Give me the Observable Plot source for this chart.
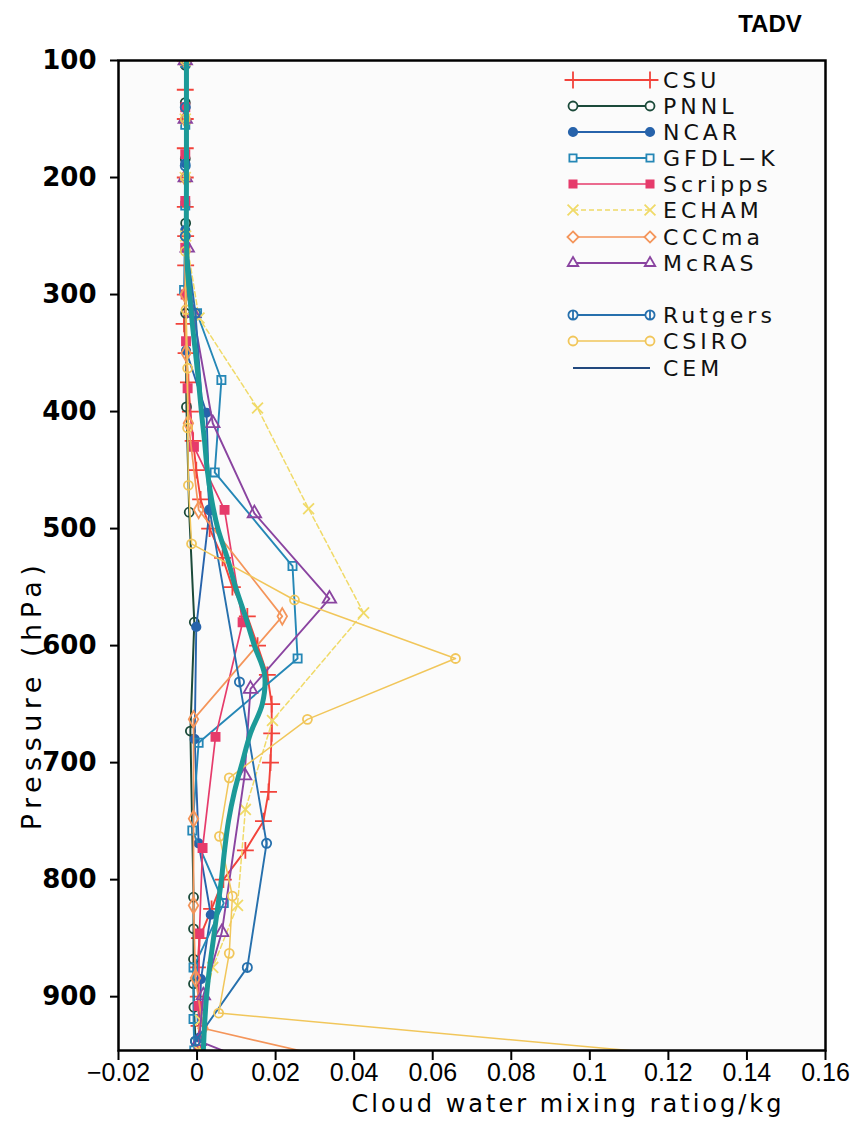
<!DOCTYPE html>
<html><head><meta charset="utf-8">
<script src="https://cdn.jsdelivr.net/npm/d3@7"></script>
<script src="https://cdn.jsdelivr.net/npm/@observablehq/plot@0.6"></script>
<style>
body{margin:0;background:#fff;}
#wrap{position:relative;width:856px;height:1123px;}
#overlay{position:absolute;left:0;top:0;pointer-events:none;}
</style></head><body><div id="wrap"></div>
<script>
// ---------- DATA ----------
const title = "TADV";
const xLabel = "Cloud water mixing ratiog/kg";
const yLabel = "Pressure (hPa)";
const xTicks = [-0.02, 0, 0.02, 0.04, 0.06, 0.08, 0.1, 0.12, 0.14, 0.16];
const yTicks = [100, 200, 300, 400, 500, 600, 700, 800, 900];

const csuP = [100,125,150,175,200,225,250,275,300,325,350,375,400,425,450,475,500,525,550,575,600,625,650,675,700,725,750,775,800,825,850,875,900,925];
const csuX = [-0.0030,-0.0030,-0.0030,-0.0030,-0.0030,-0.0030,-0.0029,-0.0029,-0.0030,-0.0033,-0.0028,-0.0022,-0.0017,-0.0010,-0.0002,0.0009,0.0032,0.0065,0.0090,0.0128,0.0154,0.0179,0.0190,0.0190,0.0187,0.0182,0.0169,0.0123,0.0067,0.0037,0.0006,0.0001,0.0003,0.0005];

const pnnlP = [104,136,184,239,316,396,486,580,673,815,842,868,889,909,938];
const pnnlX = [-0.0030,-0.0030,-0.0030,-0.0029,-0.0029,-0.0027,-0.0020,-0.0007,-0.0017,-0.0009,-0.0009,-0.0009,-0.0009,-0.0008,-0.0004];

const ncarP = [103,140,188,245,300,348,401,484,584,680,769,830,885,935];
const ncarX = [-0.0030,-0.0030,-0.0030,-0.0030,-0.0029,-0.0028,0.0024,0.0032,-0.0002,-0.0006,0.0004,0.0035,0.0010,0.0006];

const gfdlP = [102,155,224,296,316,373,452,532,611,683,758,820,875,919,946];
const gfdlX = [-0.0030,-0.0030,-0.0030,-0.0033,0.0000,0.0062,0.0045,0.0243,0.0256,0.0004,-0.0012,0.0068,-0.0009,-0.0009,-0.0007];

const scrippsP = [100,140,180,220,260,300,340,380,430,484,580,678,773,846,908,946];
const scrippsX = [-0.0030,-0.0030,-0.0030,-0.0030,-0.0030,-0.0029,-0.0028,-0.0024,-0.0008,0.0070,0.0116,0.0047,0.0014,0.0006,0.0004,0.0006];

const echamP = [100,150,200,250,320,397,483,572,664,740,822,875,920,946];
const echamX = [-0.0030,-0.0030,-0.0030,-0.0029,0.0005,0.0154,0.0284,0.0424,0.0192,0.0123,0.0103,0.0040,0.0009,0.0005];

const cccmaP = [100,150,200,250,300,350,410,484,575,663,748,822,884,927,960];
const cccmaX = [-0.0030,-0.0030,-0.0030,-0.0030,-0.0030,-0.0028,-0.0022,0.0004,0.0217,-0.0009,-0.0009,-0.0009,-0.0004,0.0015,0.0440];

const mcrasP = [100,150,200,260,316,410,487,560,637,711,845,899,938,960];
const mcrasX = [-0.0030,-0.0030,-0.0030,-0.0025,-0.0010,0.0040,0.0146,0.0337,0.0136,0.0121,0.0063,0.0016,0.0005,0.0170];

const rutgersP = [100,140,190,250,316,484,631,769,875,938];
const rutgersX = [-0.0030,-0.0030,-0.0030,-0.0030,-0.0004,0.0032,0.0108,0.0177,0.0128,-0.0004];

const csiroP = [100,150,200,263,313,363,414,463,513,561,611,663,713,763,814,863,914,965];
const csiroX = [-0.0030,-0.0030,-0.0030,-0.0030,-0.0028,-0.0024,-0.0024,-0.0022,-0.0014,0.0248,0.0658,0.0281,0.0082,0.0057,0.0090,0.0082,0.0055,0.1720];

const cemP = [100,150,200,250,275,300,325,350,375,400,425,450,475,500,525,550,575,600,625,650,675,700,725,750,775,800,825,850,875,900,925,946];
const cemX = [-0.0027,-0.0027,-0.0027,-0.0027,-0.0025,-0.0019,-0.0012,-0.0004,0.0004,0.0011,0.0019,0.0026,0.0037,0.0053,0.0077,0.0098,0.0123,0.0146,0.0172,0.0166,0.0136,0.0115,0.0095,0.0080,0.0070,0.0062,0.0052,0.0042,0.0032,0.0024,0.0019,0.0016];

// ---------- STYLE ----------
const rutgersSymbol = {
  draw(ctx, size) {
    const r = Math.sqrt(size / Math.PI);
    ctx.moveTo(r, 0);
    ctx.arc(0, 0, r, 0, 2 * Math.PI);
    ctx.moveTo(0, -r);
    ctx.lineTo(0, r);
  }
};

const series = [
  {name: "CSU",     p: csuP,     x: csuX,     color: "#f2433b", symbol: "plus",     filled: false, sw: 1.9, dash: null,  r: 5.5},
  {name: "PNNL",    p: pnnlP,    x: pnnlX,    color: "#1b4a3a", symbol: "circle",   filled: false, sw: 2.0, dash: null,  r: 4.5},
  {name: "NCAR",    p: ncarP,    x: ncarX,    color: "#2763ab", symbol: "circle",   filled: true,  sw: 1.9, dash: null,  r: 4.2},
  {name: "GFDL\u2212K", p: gfdlP, x: gfdlX,   color: "#2587b6", symbol: "square",   filled: false, sw: 1.9, dash: null,  r: 4.6},
  {name: "Scripps", p: scrippsP, x: scrippsX, color: "#e63b6b", symbol: "square",   filled: true,  sw: 1.7, dash: null,  r: 4.6},
  {name: "ECHAM",   p: echamP,   x: echamX,   color: "#f0da68", symbol: "times",    filled: false, sw: 1.5, dash: "5,3", r: 5},
  {name: "CCCma",   p: cccmaP,   x: cccmaX,   color: "#f4955a", symbol: "diamond",  filled: false, sw: 1.7, dash: null,  r: 5},
  {name: "McRAS",   p: mcrasP,   x: mcrasX,   color: "#8a44a0", symbol: "triangle", filled: false, sw: 1.9, dash: null,  r: 5},
  {name: "Rutgers", p: rutgersP, x: rutgersX, color: "#2670ad", symbol: rutgersSymbol, filled: false, sw: 1.9, dash: null, r: 4.6},
  {name: "CSIRO",   p: csiroP,   x: csiroX,   color: "#f1c65a", symbol: "circle",   filled: false, sw: 1.5, dash: null,  r: 4.5},
  {name: "CEM",     p: cemP,     x: cemX,     color: "#1c9a98", symbol: null,       filled: false, sw: 5.0, dash: null,  r: 0, legendColor: "#22487e", legendSw: 1.8}
];

const rows = s => s.p.map((p, i) => ({p, x: s.x[i]}));

const marks = [Plot.frame({fill: "#fbfbfb", stroke: "none"})];
for (const s of series) {
  const data = rows(s);
  marks.push(Plot.line(data, {
    x: "x", y: "p", stroke: s.color, strokeWidth: s.sw,
    strokeDasharray: s.dash, clip: true,
    curve: s.name === "CEM" ? "catmull-rom" : "linear"
  }));
  if (s.symbol) {
    marks.push(Plot.dot(data, {
      x: "x", y: "p", symbol: s.symbol, r: s.r, clip: true,
      stroke: s.color, strokeWidth: 1.8,
      fill: s.filled ? s.color : "none"
    }));
  }
}

const fmt = d => String(+d.toFixed(2)).replace("-", "\u2212");

marks.push(
  Plot.axisX({ticks: xTicks, tickFormat: fmt, tickSize: 10, tickPadding: 3, strokeWidth: 2,
    fontSize: 25, fontFamily: "Liberation Sans, Arial, sans-serif", label: null}),
  Plot.axisY({ticks: yTicks, tickFormat: d => String(d), tickSize: 8, tickPadding: 14, strokeWidth: 2,
    fontSize: 26, fontWeight: "bold", fontFamily: "DejaVu Sans, sans-serif", label: null}),
  Plot.frame({stroke: "black", strokeWidth: 2.5})
);

const chart = Plot.plot({
  width: 856, height: 1123,
  marginLeft: 118, marginRight: 31, marginTop: 60, marginBottom: 73,
  style: {background: "white", color: "black", overflow: "visible"},
  x: {domain: [-0.02, 0.16]},
  y: {domain: [100, 946], reverse: true},
  marks
});
const wrap = document.getElementById("wrap");
wrap.appendChild(chart);

// ---------- overlay: title, axis labels, legend ----------
const svg = d3.select(wrap).append("svg").attr("id", "overlay")
  .attr("width", 856).attr("height", 1123);

svg.append("text").text(title)
  .attr("x", 770).attr("y", 32).attr("text-anchor", "middle")
  .attr("font-family", "Liberation Sans, Arial, sans-serif")
  .attr("font-weight", "bold").attr("font-size", 24);

svg.append("text").text(xLabel)
  .attr("x", 568).attr("y", 1112).attr("text-anchor", "middle")
  .attr("font-family", "DejaVu Sans, sans-serif").attr("font-size", 24)
  .attr("letter-spacing", 3);

svg.append("text").text(yLabel)
  .attr("transform", "translate(41,695) rotate(-90)").attr("text-anchor", "middle")
  .attr("font-family", "DejaVu Sans, sans-serif").attr("font-size", 27)
  .attr("letter-spacing", 5.5);

const legendY = [80, 106, 132, 158, 184, 210, 237, 263, 315, 341, 368];
const lx0 = 573, lx1 = 650, tx = 663;
series.forEach((s, i) => {
  const y = legendY[i];
  const g = svg.append("g");
  g.append("line").attr("x1", lx0).attr("x2", lx1).attr("y1", y).attr("y2", y)
    .attr("stroke", s.legendColor || s.color).attr("stroke-width", s.legendSw || Math.min(s.sw, 2))
    .attr("stroke-dasharray", s.dash);
  if (s.symbol) {
    const sym = typeof s.symbol === "string"
      ? {plus: d3.symbolPlus, circle: d3.symbolCircle, square: d3.symbolSquare2, times: d3.symbolTimes,
         diamond: d3.symbolDiamond2, triangle: d3.symbolTriangle2}[s.symbol]
      : s.symbol;
    const path = d3.symbol(sym, s.r * s.r * Math.PI)();
    for (const px of [lx0, lx1]) {
      g.append("path").attr("d", path).attr("transform", `translate(${px},${y})`)
        .attr("stroke", s.color).attr("stroke-width", 1.8)
        .attr("fill", s.filled ? s.color : "#fbfbfb");
    }
  }
  g.append("text").text(s.name).attr("x", tx).attr("y", y + 8)
    .attr("font-family", "DejaVu Sans, sans-serif").attr("font-size", 22)
    .attr("letter-spacing", 4).attr("fill", "#111");
});
</script>
</body></html>
